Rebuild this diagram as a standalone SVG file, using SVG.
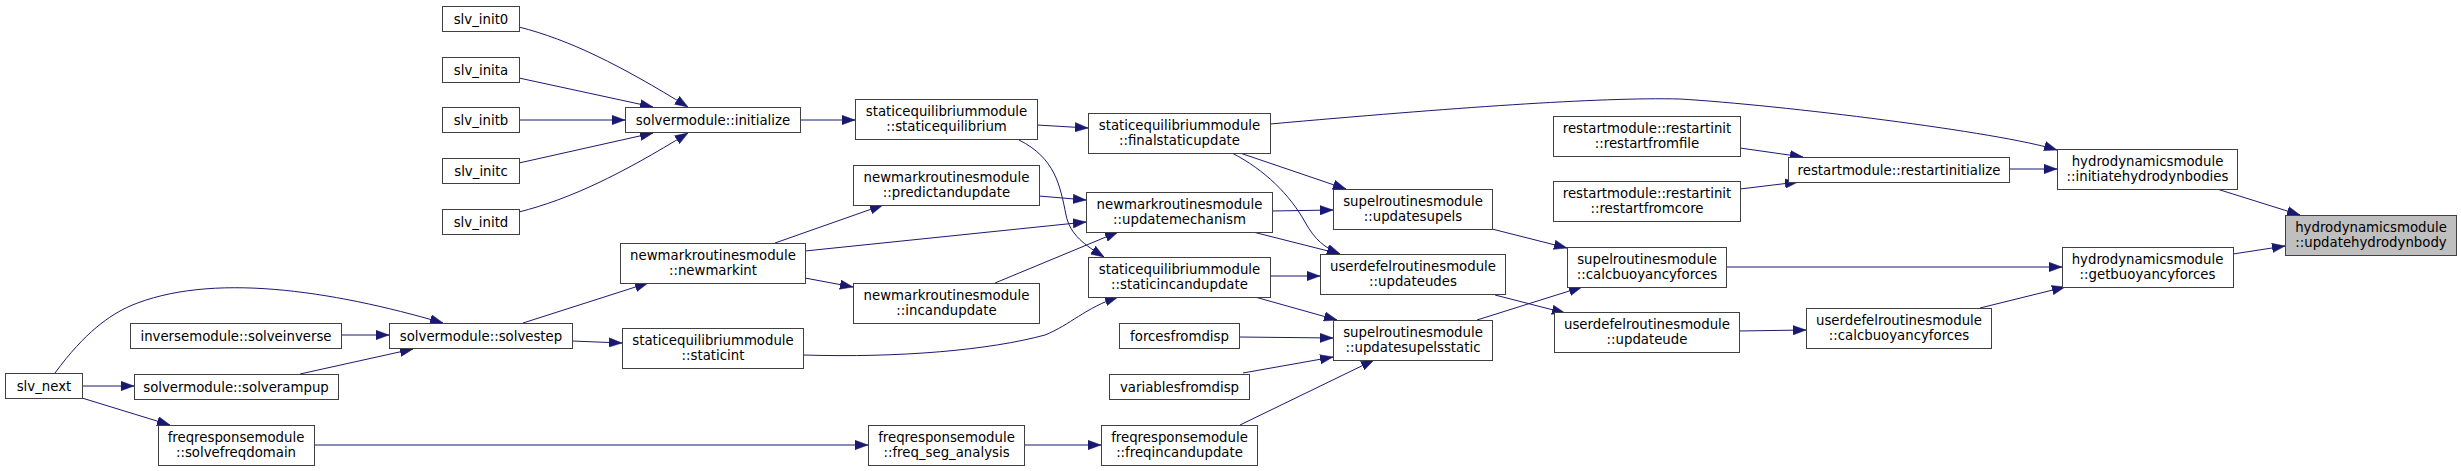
<svg xmlns="http://www.w3.org/2000/svg" width="2461" height="471" viewBox="0 0 2461 471">
<defs>
<marker id="ah" viewBox="0 0 13 10" refX="13" refY="5" markerWidth="13" markerHeight="10" markerUnits="userSpaceOnUse" orient="auto">
<path d="M0,0.3 L13,5 L0,9.7 z" fill="#191970" stroke="#191970" stroke-width="0.5"/>
</marker>
<style>
.n rect{fill:#ffffff;stroke:#404040;stroke-width:1}
.n.root rect{fill:#bfbfbf}
.n text{font-family:"DejaVu Sans","Liberation Sans",sans-serif;font-size:13.3px;fill:#000000;text-anchor:middle}
#edges path{fill:none;stroke:#191970;stroke-width:1;marker-end:url(#ah)}
</style>
</defs>
<rect width="2461" height="471" fill="#ffffff"/>
<g id="edges">
<path d="M519,27 C570,40 620,65 688,107"/>
<path d="M519,78 L653,107"/>
<path d="M519,120 L625,120"/>
<path d="M519,163 L653,133"/>
<path d="M519,212 C570,199 620,175 688,133"/>
<path d="M800,120 L855,120"/>
<path d="M1037,125 L1088,128"/>
<path d="M1019,140 C1055,158 1060,185 1066,215 C1070,235 1085,245 1104,257"/>
<path d="M1270,124 C1450,108 1600,97 1680,99 C1780,105 2000,132 2057,150"/>
<path d="M1240,153 L1346,189"/>
<path d="M1232,153 C1265,170 1290,195 1305,222 C1315,240 1325,248 1340,254"/>
<path d="M1039,196 L1086,200"/>
<path d="M775,243 L883,205"/>
<path d="M805,251 L1086,222"/>
<path d="M805,278 L853,287"/>
<path d="M995,283 L1118,232"/>
<path d="M1272,211 L1333,210"/>
<path d="M1253,232 L1340,254"/>
<path d="M1270,276 L1320,276"/>
<path d="M1255,297 L1337,320"/>
<path d="M803,355 C900,358 990,350 1045,335 C1070,325 1085,308 1118,297"/>
<path d="M523,323 L648,283"/>
<path d="M572,341 L622,343"/>
<path d="M55,373 C85,332 110,315 130,306 C210,272 330,290 443,323"/>
<path d="M341,335 L389,335"/>
<path d="M300,374 L413,349"/>
<path d="M82,386 L134,386"/>
<path d="M82,398 L170,425"/>
<path d="M314,445 L868,445"/>
<path d="M1024,445 L1101,445"/>
<path d="M1240,425 L1374,360"/>
<path d="M1239,337 L1333,338"/>
<path d="M1243,373 L1333,357"/>
<path d="M1492,229 L1567,248"/>
<path d="M1477,320 L1582,287"/>
<path d="M1495,295 L1565,313"/>
<path d="M1739,331 L1806,330"/>
<path d="M1726,267 L2062,267"/>
<path d="M1980,308 L2065,287"/>
<path d="M2233,254 L2285,246"/>
<path d="M1740,148 L1803,157"/>
<path d="M1740,189 L1798,182"/>
<path d="M2009,169 L2057,169"/>
<path d="M2217,189 L2300,215"/>
</g>
<g id="slv_next" class="n"><rect x="5.5" y="373.5" width="77" height="25"/><text x="44" y="390.5">slv_next</text></g>
<g id="slv_init0" class="n"><rect x="442.5" y="6.5" width="77" height="25"/><text x="481" y="23.5">slv_init0</text></g>
<g id="slv_inita" class="n"><rect x="442.5" y="57.5" width="77" height="25"/><text x="481" y="74.5">slv_inita</text></g>
<g id="slv_initb" class="n"><rect x="442.5" y="107.5" width="77" height="25"/><text x="481" y="124.5">slv_initb</text></g>
<g id="slv_initc" class="n"><rect x="442.5" y="158.5" width="77" height="25"/><text x="481" y="175.5">slv_initc</text></g>
<g id="slv_initd" class="n"><rect x="442.5" y="209.5" width="77" height="25"/><text x="481" y="226.5">slv_initd</text></g>
<g id="initialize" class="n"><rect x="625.5" y="107.5" width="175" height="25"/><text x="713" y="124.5">solvermodule::initialize</text></g>
<g id="staticequilibrium" class="n"><rect x="855.5" y="99.5" width="182" height="40"/><text x="946.5" y="116">staticequilibriummodule</text><text x="946.5" y="131">::staticequilibrium</text></g>
<g id="predictandupdate" class="n"><rect x="853.5" y="165.5" width="186" height="40"/><text x="946.5" y="182">newmarkroutinesmodule</text><text x="946.5" y="197">::predictandupdate</text></g>
<g id="finalstaticupdate" class="n"><rect x="1088.5" y="113.5" width="182" height="40"/><text x="1179.5" y="130">staticequilibriummodule</text><text x="1179.5" y="145">::finalstaticupdate</text></g>
<g id="updatemechanism" class="n"><rect x="1086.5" y="192.5" width="186" height="40"/><text x="1179.5" y="209">newmarkroutinesmodule</text><text x="1179.5" y="224">::updatemechanism</text></g>
<g id="newmarkint" class="n"><rect x="620.5" y="243.5" width="185" height="40"/><text x="713" y="260">newmarkroutinesmodule</text><text x="713" y="275">::newmarkint</text></g>
<g id="incandupdate" class="n"><rect x="853.5" y="283.5" width="186" height="40"/><text x="946.5" y="300">newmarkroutinesmodule</text><text x="946.5" y="315">::incandupdate</text></g>
<g id="staticincandupdate" class="n"><rect x="1088.5" y="257.5" width="182" height="40"/><text x="1179.5" y="274">staticequilibriummodule</text><text x="1179.5" y="289">::staticincandupdate</text></g>
<g id="solvestep" class="n"><rect x="389.5" y="323.5" width="183" height="25"/><text x="481" y="340.5">solvermodule::solvestep</text></g>
<g id="solveinverse" class="n"><rect x="130.5" y="323.5" width="211" height="25"/><text x="236" y="340.5">inversemodule::solveinverse</text></g>
<g id="solverampup" class="n"><rect x="134.5" y="374.5" width="204" height="25"/><text x="236" y="391.5">solvermodule::solverampup</text></g>
<g id="staticint" class="n"><rect x="622.5" y="328.5" width="181" height="40"/><text x="713" y="345">staticequilibriummodule</text><text x="713" y="360">::staticint</text></g>
<g id="solvefreqdomain" class="n"><rect x="158.5" y="425.5" width="156" height="40"/><text x="236" y="442">freqresponsemodule</text><text x="236" y="457">::solvefreqdomain</text></g>
<g id="freq_seg_analysis" class="n"><rect x="868.5" y="425.5" width="156" height="40"/><text x="946.5" y="442">freqresponsemodule</text><text x="946.5" y="457">::freq_seg_analysis</text></g>
<g id="freqincandupdate" class="n"><rect x="1101.5" y="425.5" width="156" height="40"/><text x="1179.5" y="442">freqresponsemodule</text><text x="1179.5" y="457">::freqincandupdate</text></g>
<g id="forcesfromdisp" class="n"><rect x="1119.5" y="323.5" width="120" height="25"/><text x="1179.5" y="340.5">forcesfromdisp</text></g>
<g id="variablesfromdisp" class="n"><rect x="1109.5" y="374.5" width="140" height="25"/><text x="1179.5" y="391.5">variablesfromdisp</text></g>
<g id="updatesupels" class="n"><rect x="1333.5" y="189.5" width="159" height="40"/><text x="1413" y="206">supelroutinesmodule</text><text x="1413" y="221">::updatesupels</text></g>
<g id="updateudes" class="n"><rect x="1320.5" y="254.5" width="185" height="40"/><text x="1413" y="271">userdefelroutinesmodule</text><text x="1413" y="286">::updateudes</text></g>
<g id="updatesupelsstatic" class="n"><rect x="1333.5" y="320.5" width="159" height="40"/><text x="1413" y="337">supelroutinesmodule</text><text x="1413" y="352">::updatesupelsstatic</text></g>
<g id="restartfromfile" class="n"><rect x="1553.5" y="116.5" width="187" height="40"/><text x="1647" y="133">restartmodule::restartinit</text><text x="1647" y="148">::restartfromfile</text></g>
<g id="restartfromcore" class="n"><rect x="1553.5" y="181.5" width="187" height="40"/><text x="1647" y="198">restartmodule::restartinit</text><text x="1647" y="213">::restartfromcore</text></g>
<g id="supel_calcbuoyancyforces" class="n"><rect x="1567.5" y="247.5" width="159" height="40"/><text x="1647" y="264">supelroutinesmodule</text><text x="1647" y="279">::calcbuoyancyforces</text></g>
<g id="updateude" class="n"><rect x="1554.5" y="312.5" width="185" height="40"/><text x="1647" y="329">userdefelroutinesmodule</text><text x="1647" y="344">::updateude</text></g>
<g id="restartinitialize" class="n"><rect x="1788.5" y="157.5" width="221" height="25"/><text x="1899" y="174.5">restartmodule::restartinitialize</text></g>
<g id="userdefel_calcbuoyancyforces" class="n"><rect x="1806.5" y="308.5" width="185" height="40"/><text x="1899" y="325">userdefelroutinesmodule</text><text x="1899" y="340">::calcbuoyancyforces</text></g>
<g id="initiatehydrodynbodies" class="n"><rect x="2057.5" y="149.5" width="180" height="40"/><text x="2147.5" y="166">hydrodynamicsmodule</text><text x="2147.5" y="181">::initiatehydrodynbodies</text></g>
<g id="getbuoyancyforces" class="n"><rect x="2062.5" y="247.5" width="171" height="40"/><text x="2147.5" y="264">hydrodynamicsmodule</text><text x="2147.5" y="279">::getbuoyancyforces</text></g>
<g id="updatehydrodynbody" class="n root"><rect x="2285.5" y="215.5" width="171" height="40"/><text x="2371" y="232">hydrodynamicsmodule</text><text x="2371" y="247">::updatehydrodynbody</text></g>
</svg>
